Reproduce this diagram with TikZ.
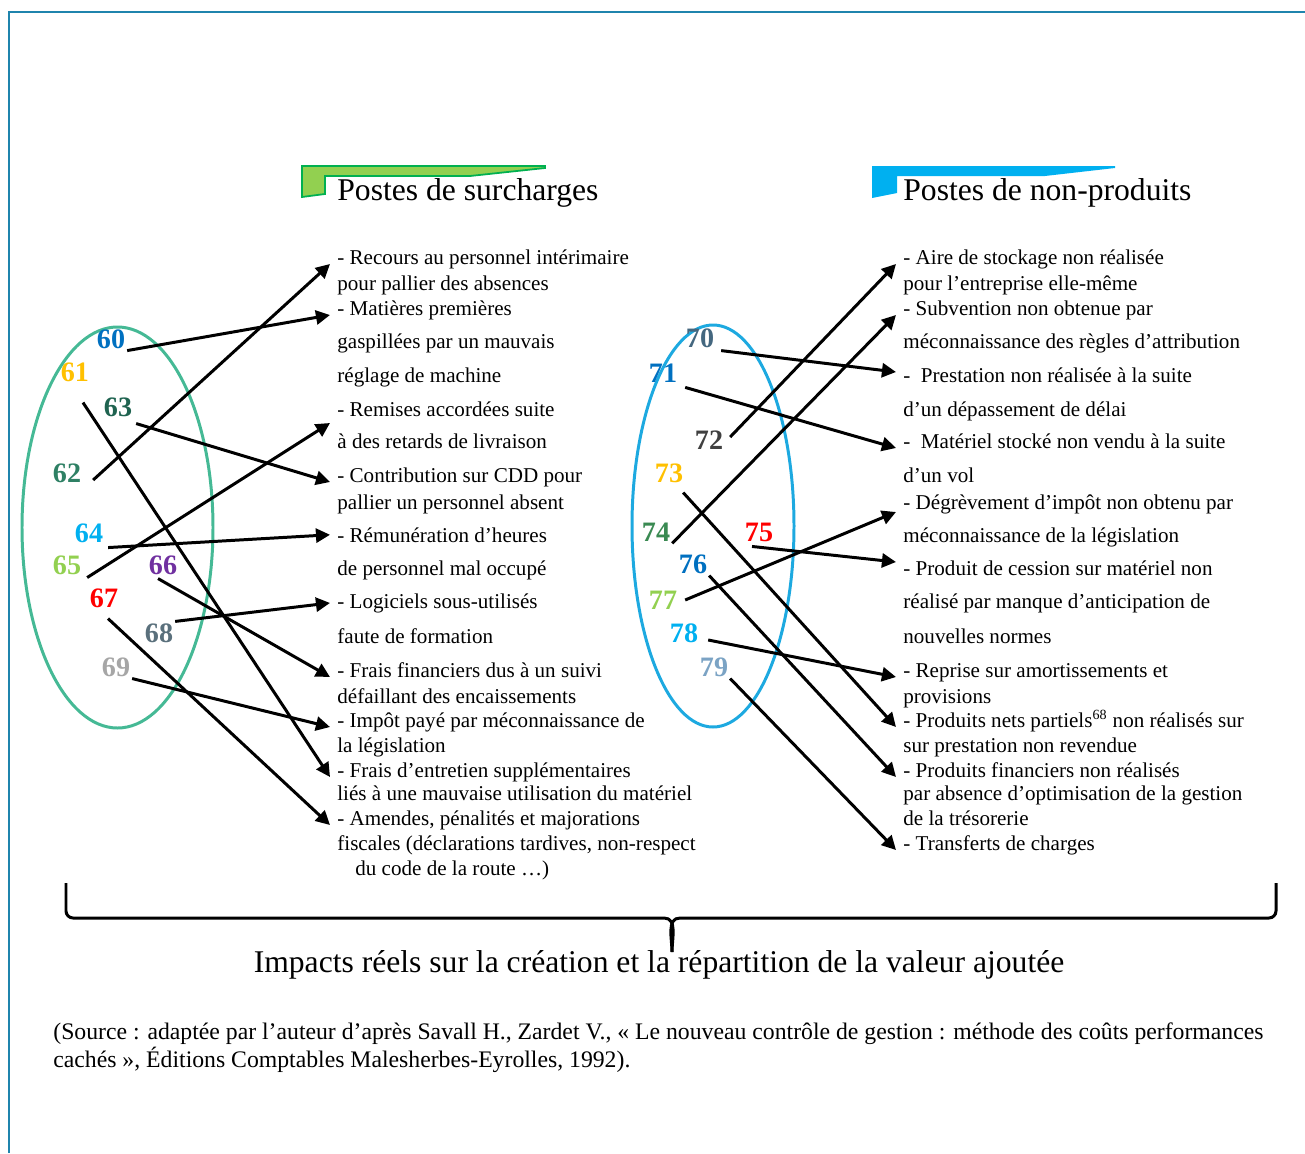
\documentclass[tikz,border=0pt]{standalone}
\usepackage{fontspec}
\setmainfont{Liberation Serif}
\usetikzlibrary{arrows.meta}

\definecolor{frameblue}{HTML}{1F84AD}
\definecolor{ringgreen}{HTML}{45B995}
\definecolor{ringblue}{HTML}{1DA9E0}
\definecolor{bannergreen}{HTML}{92D050}
\definecolor{bannergreenline}{HTML}{00B050}
\definecolor{bannerblue}{HTML}{00B0F0}
\definecolor{cblue}{HTML}{0070C0}
\definecolor{cgold}{HTML}{FFC000}
\definecolor{cteal}{HTML}{2E8064}
\definecolor{cdarkteal}{HTML}{1F6350}
\definecolor{ccyan}{HTML}{00B0F0}
\definecolor{clime}{HTML}{92D050}
\definecolor{cpurple}{HTML}{7030A0}
\definecolor{cred}{HTML}{FF0000}
\definecolor{cslate}{HTML}{5A707C}
\definecolor{cgrey}{HTML}{A6A6A6}
\definecolor{cnavy}{HTML}{44677F}
\definecolor{cdark}{HTML}{404040}
\definecolor{cgreen}{HTML}{3A8A52}
\definecolor{csteel}{HTML}{7BA3C4}

\begin{document}
\begin{tikzpicture}[x=0.02cm,y=-0.02cm,
  num/.style={font=\bfseries\fontsize{16}{18}\selectfont,inner sep=1pt},
  item/.style={anchor=base west,inner xsep=4pt,inner ysep=0pt,font=\fontsize{12}{14}\selectfont},
  title/.style={anchor=base west,inner sep=0pt,font=\fontsize{18}{22}\selectfont},
  link/.style={line width=1.7pt,-{Triangle[length=8pt,width=8pt]}},
  ring/.style={line width=1.7pt},
  brace/.style={line width=1.7pt}]
\useasboundingbox (0,0) rectangle (1305,1153);

% frame
\draw[frameblue,line width=1.6pt] (9,1153) -- (9,12) -- (1305,12);

% banners
\filldraw[fill=bannergreen,draw=bannergreenline,line width=1pt] (302,166) -- (545,166) -- (545,168) -- (470,176) -- (325,176) -- (325,194) -- (302,197) -- cycle;
\fill[bannerblue] (872,166) -- (1115,166) -- (1115,168) -- (1045,176) -- (897,176) -- (897,193) -- (872,198) -- cycle;
\node[title] (tleft) at (337,200) {Postes de surcharges};
\node[title] (tright) at (903,200) {Postes de non-produits};

% rings
\draw[ring,ringgreen] (117.5,527.5) ellipse [x radius=95.5, y radius=200.5];
\draw[ring,ringblue] (713,526) ellipse [x radius=81, y radius=201];

% numbers
\node[num,text=cblue] (n60) at (111,339) {60};
\node[num,text=cgold] (n61) at (75,372) {61};
\node[num,text=cteal] (n62) at (67,473) {62};
\node[num,text=cdarkteal] (n63) at (118,407) {63};
\node[num,text=ccyan] (n64) at (89,533) {64};
\node[num,text=clime] (n65) at (67,565) {65};
\node[num,text=cpurple] (n66) at (163,565) {66};
\node[num,text=cred] (n67) at (104,598) {67};
\node[num,text=cslate] (n68) at (159,633) {68};
\node[num,text=cgrey] (n69) at (116,667) {69};

\node[num,text=cnavy] (n70) at (700,338) {70};
\node[num,text=cblue] (n71) at (663,373) {71};
\node[num,text=cdark] (n72) at (709,440) {72};
\node[num,text=cgold] (n73) at (669,473) {73};
\node[num,text=cgreen] (n74) at (656,532) {74};
\node[num,text=cred] (n75) at (759,532) {75};
\node[num,text=cblue] (n76) at (693,564) {76};
\node[num,text=clime] (n77) at (663,600) {77};
\node[num,text=ccyan] (n78) at (684,633) {78};
\node[num,text=csteel] (n79) at (714,667) {79};

% surcharges
\node[item] (l1) at (330,264) {- Recours au personnel intérimaire};
\node[item] (l1b) at (330,290) {pour pallier des absences};
\node[item] (l2) at (330,315) {- Matières premières};
\node[item] (l2b) at (330,348) {gaspillées par un mauvais};
\node[item] (l2c) at (330,382) {réglage de machine};
\node[item] (l3) at (330,416) {- Remises accordées suite};
\node[item] (l3b) at (330,448) {à des retards de livraison};
\node[item] (l4) at (330,482) {- Contribution sur CDD pour};
\node[item] (l4b) at (330,509) {pallier un personnel absent};
\node[item] (l5) at (330,542) {- Rémunération d’heures};
\node[item] (l5b) at (330,575) {de personnel mal occupé};
\node[item] (l6) at (330,608) {- Logiciels sous-utilisés};
\node[item] (l6b) at (330,643) {faute de formation};
\node[item] (l7) at (330,677) {- Frais financiers dus à un suivi};
\node[item] (l7b) at (330,703) {défaillant des encaissements};
\node[item] (l8) at (330,727) {- Impôt payé par méconnaissance de};
\node[item] (l8b) at (330,752) {la législation};
\node[item] (l9) at (330,777) {- Frais d’entretien supplémentaires};
\node[item] (l9b) at (330,800) {liés à une mauvaise utilisation du matériel};
\node[item] (l10) at (330,825) {- Amendes, pénalités et majorations};
\node[item] (l10b) at (330,850) {fiscales (déclarations tardives, non-respect};
\node[item] (l10c) at (348,875) {du code de la route …)};

% non-produits
\node[item] (r1) at (896,264) {- Aire de stockage non réalisée};
\node[item] (r1b) at (896,290) {pour l’entreprise elle-même};
\node[item] (r2) at (896,315) {- Subvention non obtenue par};
\node[item] (r2b) at (896,348) {méconnaissance des règles d’attribution};
\node[item] (r3) at (896,382) {-~ Prestation non réalisée à la suite};
\node[item] (r3b) at (896,416) {d’un dépassement de délai};
\node[item] (r4) at (896,448) {-~ Matériel stocké non vendu à la suite};
\node[item] (r4b) at (896,482) {d’un vol};
\node[item] (r5) at (896,509) {- Dégrèvement d’impôt non obtenu par};
\node[item] (r5b) at (896,542) {méconnaissance de la législation};
\node[item] (r6) at (896,575) {- Produit de cession sur matériel non};
\node[item] (r6b) at (896,608) {réalisé par manque d’anticipation de};
\node[item] (r6c) at (896,643) {nouvelles normes};
\node[item] (r7) at (896,677) {- Reprise sur amortissements et};
\node[item] (r7b) at (896,703) {provisions};
\node[item] (r8) at (896,727) {- Produits nets partiels\textsuperscript{68} non réalisés sur};
\node[item] (r8b) at (896,752) {sur prestation non revendue};
\node[item] (r9) at (896,777) {- Produits financiers non réalisés};
\node[item] (r9b) at (896,800) {par absence d’optimisation de la gestion};
\node[item] (r9c) at (896,825) {de la trésorerie};
\node[item] (r10) at (896,850) {- Transferts de charges};

% links, left
\draw[link] (n60.south east) -- (l2.base west);
\draw[link] ([shift={(8,19)}]n61.south) -- (l9.base west);
\draw[link] ([shift={(10,7)}]n62.east) -- (l1.base west);
\draw[link] ([shift={(2,5)}]n63.south east) -- (l4.base west);
\draw[link] ([shift={(3,3)}]n64.south east) -- (l5.west);
\draw[link] ([shift={(4,1)}]n65.south east) -- ([shift={(0,7)}]l3.base west);
\draw[link] ([shift={(-5,2)}]n66.south) -- (l7.base west);
\draw[link] ([shift={(4,9)}]n67.south) -- (l10.base west);
\draw[link] (n68.north east) -- (l6.west);
\draw[link] (n69.south east) -- (l8.base west);

% links, right
\draw[link] ([shift={(5,1)}]n70.south east) -- ([shift={(0,-10)}]r3.base west);
\draw[link] ([shift={(6,3)}]n71.south east) -- (r4.base west);
\draw[link] ([shift={(5,-3)}]n72.east) -- (r1.base west);
\draw[link] ([shift={(-2,8)}]n73.south east) -- (r8.base west);
\draw[link] (n74.south east) -- (r2.base west);
\draw[link] ([shift={(-7,3)}]n75.south) -- ([shift={(0,-13)}]r6.base west);
\draw[link] (n76.south east) -- (r9.base west);
\draw[link] ([shift={(6,0)}]n77.east) -- ([shift={(0,3)}]r5.base west);
\draw[link] ([shift={(8,7)}]n78.east) -- (r7.base west);
\draw[link] (n79.south east) -- (r10.base west);

% brace
\draw[brace] (66,883) -- (66,911) to[out=-90,in=180] (73,918) -- (664,918) to[out=0,in=90] (672,952);
\draw[brace] (1276,883) -- (1276,911) to[out=-90,in=0] (1269,918) -- (680,918) to[out=180,in=90] (672,952);
\node[anchor=base,inner sep=0pt,font=\fontsize{18}{22}\selectfont] (impact) at (659,972) {Impacts réels sur la création et la répartition de la valeur ajoutée};

% source
\node[anchor=base west,inner sep=0pt,font=\fontsize{13.5}{16}\selectfont] (src1) at (53,1039) {(Source : adaptée par l’auteur d’après Savall H., Zardet V., « Le nouveau contrôle de gestion : méthode des coûts performances};
\node[anchor=base west,inner sep=0pt,font=\fontsize{13.5}{16}\selectfont] (src2) at (53,1067) {cachés », Éditions Comptables Malesherbes-Eyrolles, 1992).};
\end{tikzpicture}
\end{document}
